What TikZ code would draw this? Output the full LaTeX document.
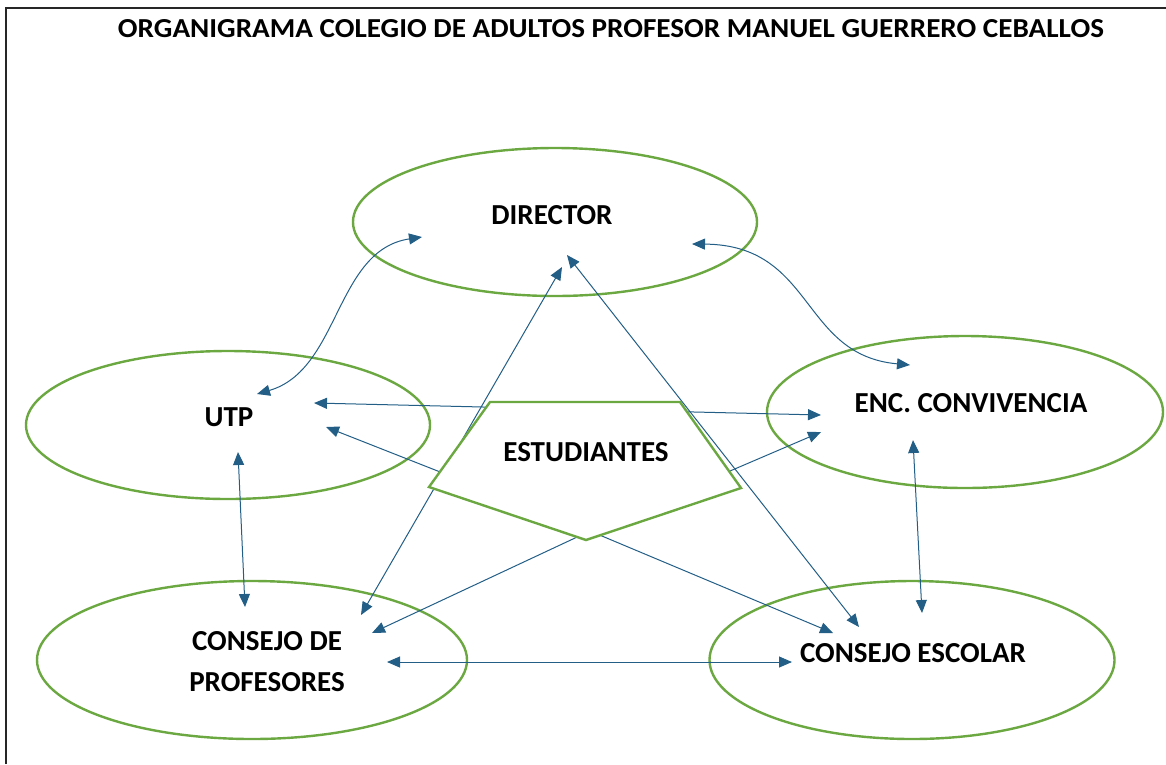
\documentclass[tikz,border=0pt]{standalone}
\usepackage{fontspec}
\setmainfont{Carlito}
\usetikzlibrary{arrows.meta,shapes.geometric}
\definecolor{grn}{RGB}{108,168,66}
\definecolor{blu}{RGB}{34,94,134}
\begin{document}
\begin{tikzpicture}[x=1pt,y=-1pt,
  oval/.style={draw=grn, line width=2.4pt, ellipse, inner sep=0pt},
  lbl/.style={font=\bfseries\fontsize{29}{41}\selectfont, text=black, inner sep=0pt, align=center},
  tip/.tip={Triangle[length=13pt,width=11pt]},
  conn/.style={draw=blu, line width=1pt, tip-tip},
  one/.style={draw=blu, line width=1pt, -tip}]
\useasboundingbox (0,0) rectangle (1166,764);
\draw[line width=1.6pt, black!85] (6,764) -- (6,8) -- (1166,8);

\node[inner sep=0pt] (title) at (611,29) {\resizebox{986pt}{18pt}{\bfseries ORGANIGRAMA COLEGIO DE ADULTOS PROFESOR MANUEL GUERRERO CEBALLOS}};

% ellipses
\node[oval, minimum width=404pt, minimum height=148pt] (dir) at (555,222) {};
\node[oval, minimum width=404pt, minimum height=148pt] (utp) at (228,425) {};
\node[oval, minimum width=396pt, minimum height=152pt] (enc) at (965,412) {};
\node[oval, minimum width=430pt, minimum height=158pt] (cdp) at (252,660) {};
\node[oval, minimum width=405pt, minimum height=158pt] (ce) at (912,660) {};

% arrow ends
\coordinate (dU) at (422,237); \coordinate (uD) at (257,394);
\coordinate (dE) at (692,244); \coordinate (eD) at (910,365);
\coordinate (uC) at (238,452); \coordinate (cU) at (245,607);
\coordinate (eS) at (913,440); \coordinate (sE) at (922,613);
\coordinate (cS) at (387,662); \coordinate (sC) at (792,662);
\coordinate (uE) at (314,403); \coordinate (eU) at (821,415);
\coordinate (dA) at (562,267); \coordinate (cA) at (361,615);
\coordinate (dB) at (567,255); \coordinate (sB) at (859,627);
\coordinate (hub) at (590,531);
\coordinate (uH) at (326,427); \coordinate (eH) at (821,432);
\coordinate (cH) at (372,633); \coordinate (sH) at (833,633);

% connectors
\draw[conn] (uD) .. controls (340,370) and (335,250) .. (dU);
\draw[conn] (dE) .. controls (815,245) and (800,355) .. (eD);
\draw[conn] (uC) -- (cU);
\draw[conn] (eS) -- (sE);
\draw[conn] (cS) -- (sC);
\draw[conn] (uE) -- (eU);
\draw[conn] (dA) -- (cA);
\draw[conn] (dB) -- (sB);
\draw[one] (hub) -- (uH);
\draw[one] (hub) -- (eH);
\draw[one] (hub) -- (cH);
\draw[one] (hub) -- (sH);

% pentagon
\coordinate (p1) at (490,402); \coordinate (p2) at (680,402);
\coordinate (p3) at (741,488); \coordinate (p4) at (586,540);
\coordinate (p5) at (429,487);
\draw[draw=grn, line width=2.4pt, fill=white, line join=miter] (p1) -- (p2) -- (p3) -- (p4) -- (p5) -- cycle;

% labels
\node[lbl] (tdir) at (552,215) {DIRECTOR};
\node[lbl] (tutp) at (229,417) {UTP};
\node[lbl] (tenc) at (971,403) {ENC. CONVIVENCIA};
\node[lbl] (tcdp) at (267,662) {CONSEJO DE\\PROFESORES};
\node[lbl] (tce) at (913,653) {CONSEJO ESCOLAR};
\node[lbl] (test) at (586,452) {ESTUDIANTES};
\end{tikzpicture}
\end{document}
